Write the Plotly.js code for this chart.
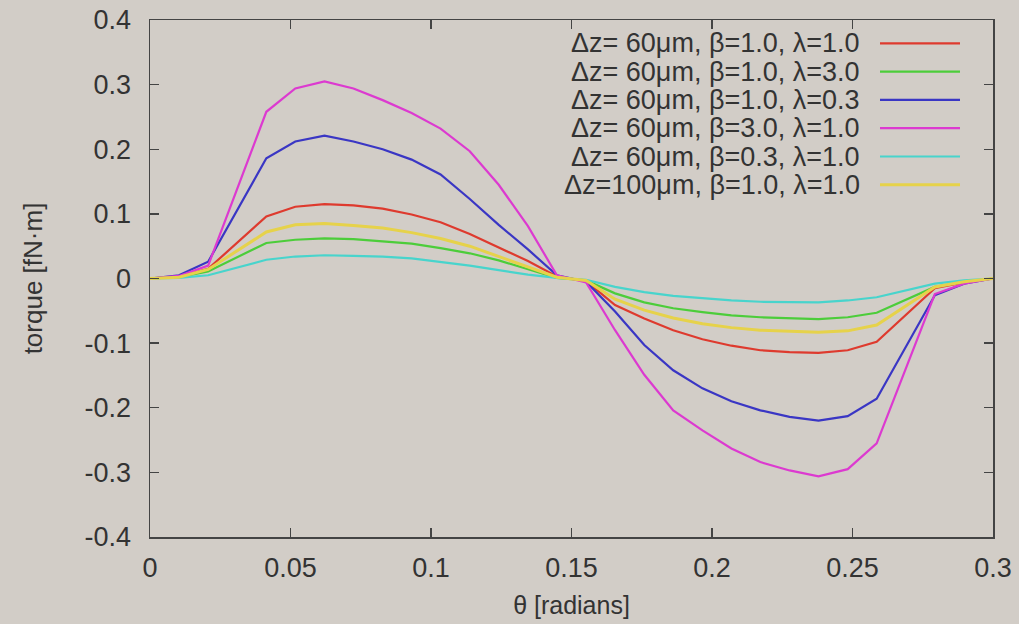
<!DOCTYPE html>
<html>
<head>
<meta charset="utf-8">
<script src="https://cdn.plot.ly/plotly-3.0.1.min.js"></script>
<style>
html,body{margin:0;padding:0;background:#d2cdc7;}
#chart{width:1019px;height:624px;}
</style>
</head>
<body>
<div id="chart"></div>
<script>
// theta [radians]
const theta = [0, 0.0103, 0.0207, 0.0414, 0.0517, 0.0621, 0.0724, 0.0828, 0.0931, 0.1034, 0.1138, 0.1241, 0.1345, 0.1448, 0.1552, 0.1655, 0.1759, 0.1862, 0.1966, 0.2069, 0.2172, 0.2276, 0.2379, 0.2483, 0.2586, 0.2793, 0.2897, 0.3];

// torque [fN·m]
const dz60_b10_l10 = [0, 0.003, 0.015, 0.096, 0.111, 0.115, 0.113, 0.108, 0.099, 0.087, 0.069, 0.048, 0.027, 0.003, -0.004, -0.041, -0.062, -0.080, -0.094, -0.104, -0.111, -0.114, -0.115, -0.111, -0.098, -0.015, -0.006, 0];
const dz60_b10_l30 = [0, 0.002, 0.011, 0.055, 0.060, 0.062, 0.061, 0.058, 0.054, 0.047, 0.039, 0.028, 0.015, 0.001, -0.003, -0.023, -0.037, -0.046, -0.052, -0.057, -0.060, -0.062, -0.063, -0.060, -0.053, -0.013, -0.005, 0];
const dz60_b10_l03 = [0, 0.005, 0.026, 0.186, 0.212, 0.221, 0.212, 0.200, 0.184, 0.161, 0.123, 0.083, 0.045, 0.005, -0.005, -0.051, -0.103, -0.142, -0.170, -0.190, -0.204, -0.214, -0.220, -0.213, -0.186, -0.026, -0.008, 0];
const dz60_b30_l10 = [0, 0.004, 0.020, 0.258, 0.294, 0.305, 0.294, 0.276, 0.256, 0.232, 0.197, 0.145, 0.081, 0.005, -0.006, -0.080, -0.149, -0.204, -0.235, -0.263, -0.284, -0.297, -0.306, -0.295, -0.255, -0.024, -0.008, 0];
const dz60_b03_l10 = [0, 0.001, 0.005, 0.029, 0.034, 0.036, 0.035, 0.034, 0.031, 0.026, 0.020, 0.013, 0.006, 0.001, -0.002, -0.013, -0.021, -0.027, -0.031, -0.034, -0.036, -0.037, -0.037, -0.034, -0.029, -0.008, -0.003, 0];
const dz100_b10_l10 = [0, 0.002, 0.014, 0.072, 0.083, 0.085, 0.082, 0.078, 0.071, 0.062, 0.050, 0.034, 0.019, 0.002, -0.003, -0.032, -0.049, -0.061, -0.070, -0.076, -0.080, -0.082, -0.083, -0.081, -0.072, -0.013, -0.005, 0];

const seriesNames = [
  "\u0394z= 60\u03bcm, \u03b2=1.0, \u03bb=1.0",
  "\u0394z= 60\u03bcm, \u03b2=1.0, \u03bb=3.0",
  "\u0394z= 60\u03bcm, \u03b2=1.0, \u03bb=0.3",
  "\u0394z= 60\u03bcm, \u03b2=3.0, \u03bb=1.0",
  "\u0394z= 60\u03bcm, \u03b2=0.3, \u03bb=1.0",
  "\u0394z=100\u03bcm, \u03b2=1.0, \u03bb=1.0"
];
const seriesValues = [dz60_b10_l10, dz60_b10_l30, dz60_b10_l03, dz60_b30_l10, dz60_b03_l10, dz100_b10_l10];
const seriesColors = ["#de3a2e", "#4ccd3a", "#3a36c4", "#dc3ad0", "#48d4cc", "#e6d24a"];
const seriesWidths = [2.2, 2.2, 2.2, 2.2, 2.2, 3];

const xTickVals = [0, 0.05, 0.1, 0.15, 0.2, 0.25, 0.3];
const xTickText = ["0", "0.05", "0.1", "0.15", "0.2", "0.25", "0.3"];
const yTickVals = [-0.4, -0.3, -0.2, -0.1, 0, 0.1, 0.2, 0.3, 0.4];
const yTickText = ["-0.4", "-0.3", "-0.2", "-0.1", "0", "0.1", "0.2", "0.3", "0.4"];

const traces = seriesValues.map((v, i) => ({
  x: theta, y: v, type: "scatter", mode: "lines", name: seriesNames[i],
  line: {color: seriesColors[i], width: seriesWidths[i]}, showlegend: false
}));

// legend built as annotations + line samples (gnuplot style: text left, sample right)
const annotations = [];
const shapes = [];
const legTop = 43.3, legStep = 28.3, plotTop = 20, plotH = 517, plotL = 150, plotW = 843;
seriesNames.forEach((n, i) => {
  const py = legTop + legStep * i;
  const yp = 1 - (py - plotTop) / plotH;
  annotations.push({xref: "paper", yref: "paper", x: (862 - plotL) / plotW, y: yp,
    xanchor: "right", yanchor: "middle", showarrow: false, text: n,
    font: {family: "Liberation Sans, Arial, sans-serif", size: 27, color: "#333"}});
  shapes.push({type: "line", xref: "paper", yref: "paper",
    x0: (880 - plotL) / plotW, x1: (960 - plotL) / plotW, y0: yp, y1: yp,
    line: {color: seriesColors[i], width: seriesWidths[i]}});
});

const font = {family: "Liberation Sans, Arial, sans-serif", color: "#333"};
const layout = {
  width: 1019, height: 624,
  paper_bgcolor: "#d2cdc7", plot_bgcolor: "#d2cdc7",
  margin: {l: 150, r: 26, t: 20, b: 87},
  showlegend: false,
  font: font,
  xaxis: {
    range: [0, 0.3], tickvals: xTickVals, ticktext: xTickText,
    ticks: "inside", ticklen: 9, tickwidth: 1.3, tickcolor: "#444",
    showline: true, linecolor: "#444", linewidth: 1.5, mirror: "ticks",
    showgrid: false, zeroline: false,
    tickfont: {size: 27, color: "#333", family: font.family},
    ticklabelstandoff: 6,
    title: {text: "\u03b8 [radians]", font: {size: 25, color: "#333", family: font.family}, standoff: 14}
  },
  yaxis: {
    range: [-0.4, 0.4], tickvals: yTickVals, ticktext: yTickText,
    ticks: "inside", ticklen: 9, tickwidth: 1.3, tickcolor: "#444",
    showline: true, linecolor: "#444", linewidth: 1.5, mirror: "ticks",
    showgrid: false, zeroline: false,
    tickfont: {size: 27, color: "#333", family: font.family},
    ticklabelstandoff: 12,
    title: {text: "torque [fN\u00b7m]", font: {size: 26, color: "#333", family: font.family}, standoff: 34}
  },
  annotations: annotations,
  shapes: shapes
};

Plotly.newPlot("chart", traces, layout, {displayModeBar: false, staticPlot: true});
</script>
</body>
</html>
